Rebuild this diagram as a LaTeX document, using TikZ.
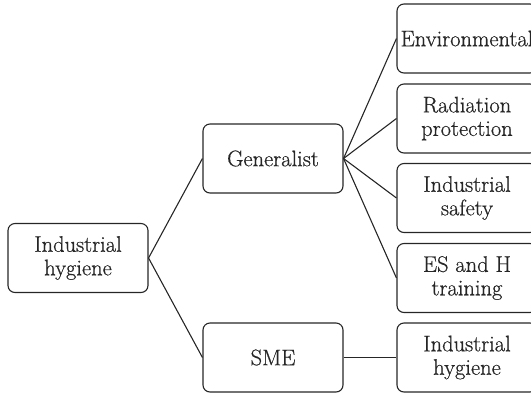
\documentclass[tikz,border=0pt]{standalone}
\usepackage{fontspec}
\setmainfont{Latin Modern Roman}[FakeBold=0.6]
\begin{document}
\begin{tikzpicture}[x=1pt,y=-1pt,
  box/.style={draw=black!85, line width=1.1pt, rounded corners=7pt,
    minimum width=140pt, minimum height=69pt, align=center,
    font=\fontsize{22.5}{23.5}\selectfont, text=black!85, inner sep=0pt},
  link/.style={draw=black!85, line width=1.1pt}]
  \useasboundingbox (0,0) rectangle (531,392);
  \clip (0,0) rectangle (531,392);
  % root and second level
  \node[box] (root) at (78,258) {Industrial\\hygiene};
  \node[box] (gen) at (273,158.5) {Generalist};
  \node[box] (sme) at (273,357.5) {SME};
  % specialisations
  \node[box] (env) at (467,38.5) {Environmental};
  \node[box] (rad) at (467,118.5) {Radiation\\protection};
  \node[box] (saf) at (467,198) {Industrial\\safety};
  \node[box] (esh) at (467,278) {ES and H\\training};
  \node[box] (ih) at (467,357.5) {Industrial\\hygiene};
  % connectors
  \draw[link] (root.east) -- (gen.west);
  \draw[link] (root.east) -- (sme.west);
  \foreach \t in {env,rad,saf,esh}
    \draw[link] (gen.east) -- (\t.west);
  \draw[link] (sme.east) -- (ih.west);
\end{tikzpicture}
\end{document}
